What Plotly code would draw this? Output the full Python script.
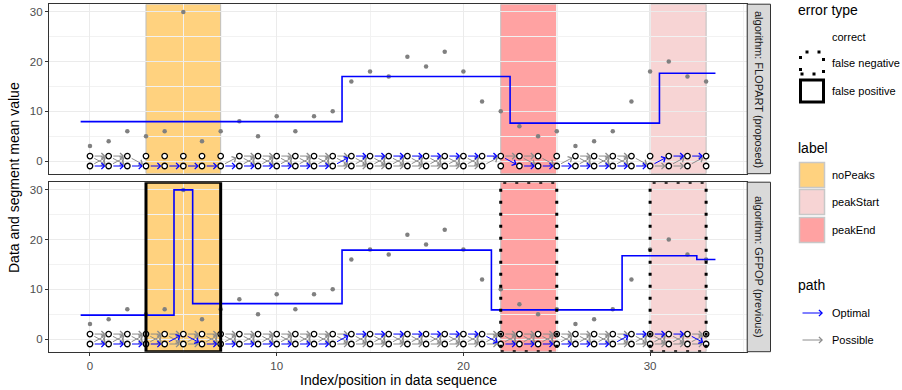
import plotly.graph_objects as go

# ---------------- data ----------------
positions = list(range(34))
data_values = [3, 4, 6, 5, 6, 30, 4, 6, 8, 5, 9, 6, 9, 10, 16, 18, 17, 21, 19, 22,
               18, 12, 10, 7, 5, 6, 3, 4, 6, 12, 18, 20, 17, 16]

label_start = [3, 22, 30]
label_end = [7, 25, 33]
label_type = ["noPeaks", "peakEnd", "peakStart"]
label_order = ["noPeaks", "peakStart", "peakEnd"]
label_fill = {"noPeaks": "rgba(255,165,0,0.5)",
              "peakStart": "rgba(240,170,170,0.5)",
              "peakEnd": "rgba(255,70,70,0.5)"}

algorithms = ["FLOPART", "GFPOP"]
strip_text = {"FLOPART": "algorithm: FLOPART (proposed)",
              "GFPOP": "algorithm: GFPOP (previous)"}
constrained = {"FLOPART": True, "GFPOP": False}

seg_start = {"FLOPART": [-0.5, 13.5, 22.5, 30.5],
             "GFPOP": [-0.5, 4.5, 5.5, 13.5, 21.5, 28.5, 32.5]}
seg_end = {"FLOPART": [13.5, 22.5, 30.5, 33.5],
           "GFPOP": [4.5, 5.5, 13.5, 21.5, 28.5, 32.5, 33.5]}
seg_mean = {"FLOPART": [7.93, 17.0, 7.62, 17.67],
            "GFPOP": [4.8, 30.0, 7.12, 17.88, 5.86, 16.75, 16.0]}

optimal_states = {"FLOPART": "DDDDDDDDDDDDDDUUUUUUUUUDDDDDDDDUUU",
                  "GFPOP": "DDDDDUDDDDDDDDUUUUUUUUDDDDDDDUUUUD"}
state_y = {"U": 1, "D": -1}

error_type = {"FLOPART": ["correct", "correct", "correct"],
              "GFPOP": ["false positive", "false negative", "false negative"]}
error_dash = {"correct": None, "false negative": "3px,9px", "false positive": "solid"}

path_colors = {"Optimal": "blue", "Possible": "#8C8C8C"}

# ---------------- graph logic ----------------
def node_allowed(t, s, con):
    if not con:
        return True
    for a, b, lab in zip(label_start, label_end, label_type):
        if a <= t <= b:
            if lab == "noPeaks":
                return s == "D"
            if lab == "peakEnd":
                if t == a:
                    return s == "U"
                if t == b:
                    return s == "D"
            if lab == "peakStart":
                if t == a:
                    return s == "D"
                if t == b:
                    return s == "U"
    return True


def edge_allowed(t, s1, s2, con):
    if not (node_allowed(t, s1, con) and node_allowed(t + 1, s2, con)):
        return False
    if con:
        for a, b, lab in zip(label_start, label_end, label_type):
            if a <= t and t + 1 <= b:
                if lab == "noPeaks" and (s1 != "D" or s2 != "D"):
                    return False
                if lab == "peakEnd" and s1 == "D" and s2 == "U":
                    return False
                if lab == "peakStart" and s1 == "U" and s2 == "D":
                    return False
    return True


# ---------------- layout geometry ----------------
W, H = 902, 390
xdom = [48.9 / W, 747.2 / W]
ydoms = {"FLOPART": [1 - 173.7 / H, 1 - 4.2 / H], "GFPOP": [1 - 351.7 / H, 1 - 182.2 / H]}
axn = {"FLOPART": ("x", "y"), "GFPOP": ("x2", "y2")}
xrange_ = [-2.2, 35.2]
yrange = [-2.55, 31.55]

fig = go.Figure()
shapes = []
annotations = []

for alg in algorithms:
    xa, ya = axn[alg]
    # label rectangles
    for a, b, lab in zip(label_start, label_end, label_type):
        shapes.append(dict(type="rect", xref=xa, yref=ya, x0=a, x1=b,
                           y0=yrange[0], y1=yrange[1],
                           fillcolor=label_fill[lab], line=dict(color="#BEBEBE", width=1),
                           layer="below"))
    # error rectangles
    for a, b, err in zip(label_start, label_end, error_type[alg]):
        if error_dash[err] is None:
            continue
        shapes.append(dict(type="rect", xref=xa, yref=ya, x0=a, x1=b,
                           y0=yrange[0], y1=yrange[1],
                           fillcolor="rgba(0,0,0,0)",
                           line=dict(color="black", width=3, dash=error_dash[err]),
                           layer="above"))
    # data points
    fig.add_trace(go.Scatter(x=positions, y=data_values, mode="markers", xaxis=xa, yaxis=ya,
                             marker=dict(color="#808080", size=4.5), showlegend=False,
                             hoverinfo="skip"))
    # segment means (step)
    fig.add_trace(go.Scatter(x=seg_start[alg] + [seg_end[alg][-1]],
                             y=seg_mean[alg] + [seg_mean[alg][-1]],
                             mode="lines", line=dict(color="blue", width=1.6, shape="hv"),
                             xaxis=xa, yaxis=ya, showlegend=False, hoverinfo="skip"))
    # nodes
    for s in ["U", "D"]:
        fig.add_trace(go.Scatter(x=positions, y=[state_y[s]] * len(positions), mode="markers",
                                 xaxis=xa, yaxis=ya,
                                 marker=dict(color="white", size=5.5,
                                             line=dict(color="black", width=1.3)),
                                 showlegend=False, hoverinfo="skip"))
    # arrows
    opt = optimal_states[alg]
    possible, optimal = [], []
    for t in positions[:-1]:
        for s1 in ["U", "D"]:
            for s2 in ["U", "D"]:
                if not edge_allowed(t, s1, s2, constrained[alg]):
                    continue
                if opt[t] == s1 and opt[t + 1] == s2:
                    optimal.append((t, s1, s2))
                else:
                    possible.append((t, s1, s2))
    for kind, edges in (("Possible", possible), ("Optimal", optimal)):
        for t, s1, s2 in edges:
            annotations.append(dict(x=t + 1, y=state_y[s2], ax=t, ay=state_y[s1],
                                    xref=xa, yref=ya, axref=xa, ayref=ya, text="",
                                    showarrow=True, arrowhead=4, arrowsize=1.2, arrowwidth=1,
                                    arrowcolor=path_colors[kind], standoff=3.2,
                                    startstandoff=3.2))
    # strip
    y0, y1 = ydoms[alg]
    shapes.append(dict(type="rect", xref="paper", yref="paper", x0=747.2 / W, x1=770.5 / W,
                       y0=y0, y1=y1, fillcolor="#D9D9D9", line=dict(color="#333333", width=1)))
    annotations.append(dict(x=759 / W, y=(y0 + y1) / 2, xref="paper", yref="paper",
                            text=strip_text[alg], showarrow=False, textangle=90,
                            xanchor="center", yanchor="middle",
                            font=dict(size=11, color="#1A1A1A")))

# axis titles
annotations.append(dict(x=398 / W, y=1 - 380 / H, xref="paper", yref="paper",
                        text="Index/position in data sequence", showarrow=False,
                        xanchor="center", yanchor="middle",
                        font=dict(size=14, color="black")))
annotations.append(dict(x=14 / W, y=1 - 178 / H, xref="paper", yref="paper",
                        text="Data and segment mean value", showarrow=False, textangle=-90,
                        xanchor="center", yanchor="middle",
                        font=dict(size=14, color="black")))

# ---------------- manual legend ----------------
def px(xp):
    return xp / W


def py(yp):
    return 1 - yp / H


def leg_title(txt, yp):
    annotations.append(dict(x=px(796), y=py(yp), xref="paper", yref="paper", text=txt,
                            showarrow=False, xanchor="left", yanchor="middle",
                            font=dict(size=14, color="black")))


def leg_text(txt, yp):
    annotations.append(dict(x=px(830), y=py(yp), xref="paper", yref="paper", text=txt,
                            showarrow=False, xanchor="left", yanchor="middle",
                            font=dict(size=11, color="black")))


leg_title("error type", 10)
err_items = ["correct", "false negative", "false positive"]
err_y = [37, 63, 91]
for err, yc in zip(err_items, err_y):
    leg_text(err, yc)
    if error_dash[err] is not None:
        shapes.append(dict(type="rect", xref="paper", yref="paper", x0=px(800.5), x1=px(823.5),
                           y0=py(yc + 11), y1=py(yc - 11), fillcolor="rgba(0,0,0,0)",
                           line=dict(color="black", width=3, dash=error_dash[err])))

leg_title("label", 148)
lab_y = [175, 202, 230]
for lab, yc in zip(label_order, lab_y):
    leg_text(lab, yc)
    shapes.append(dict(type="rect", xref="paper", yref="paper", x0=px(799.5), x1=px(824.5),
                       y0=py(yc + 12.5), y1=py(yc - 12.5), fillcolor=label_fill[lab],
                       line=dict(color="#C8C8C8", width=1.5)))

leg_title("path", 285)
path_y = [313, 340]
for kind, yc in zip(["Optimal", "Possible"], path_y):
    leg_text(kind, yc)
    annotations.append(dict(x=px(823), y=py(yc), ax=-22, ay=0, xref="paper", yref="paper",
                            text="", showarrow=True, arrowhead=4, arrowsize=1.2, arrowwidth=1,
                            arrowcolor=path_colors[kind]))

# ---------------- axes ----------------
common_x = dict(range=xrange_, autorange=False, domain=xdom, tickmode="array",
                tickvals=[0, 10, 20, 30],
                showgrid=True, gridcolor="#EBEBEB", gridwidth=1, zeroline=False,
                showline=True, mirror=True, linecolor="#333333", linewidth=1,
                minor=dict(tickmode="array", tickvals=[5, 15, 25, 35], showgrid=True,
                           gridcolor="#F2F2F2", gridwidth=0.6),
                tickfont=dict(size=11.5, color="#4D4D4D"))
common_y = dict(range=yrange, autorange=False, tickmode="array", tickvals=[0, 10, 20, 30],
                showgrid=True, gridcolor="#EBEBEB", gridwidth=1, zeroline=False,
                showline=True, mirror=True, linecolor="#333333", linewidth=1,
                minor=dict(tickmode="array", tickvals=[5, 15, 25], showgrid=True,
                           gridcolor="#F2F2F2", gridwidth=0.6),
                ticks="outside", ticklen=3, tickcolor="#333333",
                tickfont=dict(size=11.5, color="#4D4D4D"))

fig.update_layout(
    width=W, height=H, margin=dict(l=0, r=0, t=0, b=0),
    paper_bgcolor="white", plot_bgcolor="rgba(0,0,0,0)",
    font=dict(family="Liberation Sans, Arial, sans-serif"),
    showlegend=False,
    xaxis=dict(common_x, anchor="y", showticklabels=False, ticks=""),
    yaxis=dict(common_y, domain=ydoms["FLOPART"], anchor="x"),
    xaxis2=dict(common_x, anchor="y2", ticks="outside", ticklen=3, tickcolor="#333333"),
    yaxis2=dict(common_y, domain=ydoms["GFPOP"], anchor="x2"),
    shapes=shapes, annotations=annotations,
)

fig.write_html("out.html", config={"displayModeBar": False},
               post_script="document.body.style.margin='0px';")
